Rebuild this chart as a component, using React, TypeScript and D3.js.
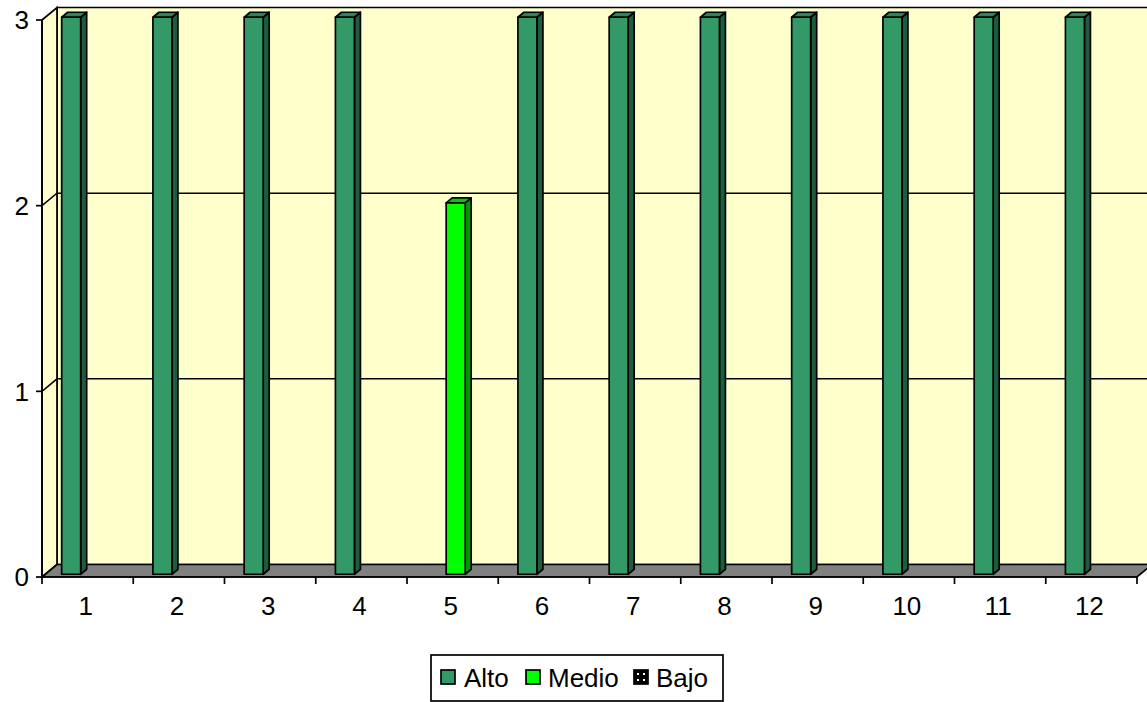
import React from "react";
import * as d3 from "d3";

const categories = ["1", "2", "3", "4", "5", "6", "7", "8", "9", "10", "11", "12"];
const seriesNames = ["Alto", "Medio", "Bajo"];
const alto = [3, 3, 3, 3, 0, 3, 3, 3, 3, 3, 3, 3];
const medio = [0, 0, 0, 0, 2, 0, 0, 0, 0, 0, 0, 0];
const bajo = [0, 0, 0, 0, 0, 0, 0, 0, 0, 0, 0, 0];
const yTicks = [0, 1, 2, 3];

const seriesValues = [alto, medio, bajo];
const faceColors = [
  { front: "#339966", side: "#1f5c3d", top: "#2b8556" },
  { front: "#00ff00", side: "#009900", top: "#00cc00" },
  { front: "#000000", side: "#000000", top: "#000000" },
];

const W = 1147;
const H = 702;
const left = 42;
const right = 1137;
const y0 = 577;
const y3 = 20;
const DX = 15;
const DY = -12.5;
const font = "'Liberation Sans', Arial, sans-serif";
const SW = 1.7;

export default function App() {
  const x = d3.scaleBand<string>().domain(categories).range([left, right]);
  const y = d3.scaleLinear().domain([0, 3]).range([y0, y3]);
  const groupW = 58.5;
  const inner = d3.scaleBand<string>().domain(seriesNames).range([-groupW / 2, groupW / 2]);
  const bw = inner.bandwidth() - 0.5;
  const d0 = 0.22;
  const d1 = 0.62;

  const P = (px: number, py: number, d: number) => [px + d * DX, py + d * DY];
  const poly = (pts: number[][]) => pts.map((p) => p.join(",")).join(" ");

  const bars: React.ReactNode[] = [];
  categories.forEach((c, ci) => {
    seriesNames.forEach((s, si) => {
      const v = seriesValues[si][ci];
      if (!v) return;
      const cx = (x(c) as number) + x.bandwidth() / 2 + (inner(s) as number);
      const xa = cx;
      const xb = cx + bw;
      const yt = y(v);
      const yb = y(0);
      const col = faceColors[si];
      const front = [P(xa, yt, d0), P(xb, yt, d0), P(xb, yb, d0), P(xa, yb, d0)];
      const side = [P(xb, yt, d0), P(xb, yt, d1), P(xb, yb, d1), P(xb, yb, d0)];
      const top = [P(xa, yt, d0), P(xa, yt, d1), P(xb, yt, d1), P(xb, yt, d0)];
      bars.push(
        <g key={c + s} stroke="#000" strokeWidth={SW} strokeLinejoin="round">
          <polygon points={poly(side)} fill={col.side} />
          <polygon points={poly(top)} fill={col.top} />
          <polygon points={poly(front)} fill={col.front} />
        </g>
      );
    });
  });

  const xTickPos = categories.map((c) => x(c) as number).concat([right]);

  return (
    <svg width={W} height={H} style={{ position: "absolute", left: 0, top: 0 }} fontFamily={font}>
      <defs>
        <pattern id="bajoPat" width="6" height="6" patternUnits="userSpaceOnUse">
          <rect width="6" height="6" fill="#000" />
          <rect x="1" y="1" width="2" height="2" fill="#fff" />
        </pattern>
      </defs>
      <rect width={W} height={H} fill="#fff" />
      {/* back wall */}
      <polygon
        points={poly([P(left, y3, 1), P(right, y3, 1), P(right, y0, 1), P(left, y0, 1)])}
        fill="#ffffcc"
        stroke="#000"
        strokeWidth={SW}
      />
      {/* left wall */}
      <polygon
        points={poly([P(left, y3, 0), P(left, y3, 1), P(left, y0, 1), P(left, y0, 0)])}
        fill="#ffffcc"
        stroke="#000"
        strokeWidth={SW}
      />
      {/* gridlines */}
      {yTicks
        .filter((t) => t > 0 && t < 3)
        .map((t) => (
          <polyline
            key={t}
            points={poly([P(left, y(t), 0), P(left, y(t), 1), P(right, y(t), 1)])}
            fill="none"
            stroke="#000"
            strokeWidth={1.5}
          />
        ))}
      {/* floor */}
      <polygon
        points={poly([P(left, y0, 0), P(right, y0, 0), P(right, y0, 1), P(left, y0, 1)])}
        fill="#808080"
        stroke="#000"
        strokeWidth={SW}
      />
      {bars}
      {/* axes */}
      <line x1={left} x2={left} y1={y3} y2={y0} stroke="#000" strokeWidth={SW} />
      <line x1={left} x2={right} y1={y0} y2={y0} stroke="#000" strokeWidth={SW} />
      {yTicks.map((t) => (
        <g key={t}>
          <line x1={left - 6} x2={left} y1={y(t)} y2={y(t)} stroke="#000" strokeWidth={SW} />
          <text x={left - 13} y={y(t)} dy="0.36em" textAnchor="end" fontSize={26}>
            {t}
          </text>
        </g>
      ))}
      {xTickPos.map((px, i) => (
        <line key={i} x1={px} x2={px} y1={y0} y2={y0 + 7} stroke="#000" strokeWidth={SW} />
      ))}
      {categories.map((c) => (
        <text
          key={c}
          x={(x(c) as number) + x.bandwidth() / 2 - 2}
          y={615}
          textAnchor="middle"
          fontSize={26}
        >
          {c}
        </text>
      ))}
      {/* legend */}
      <rect x={431} y={655} width={292} height={46} fill="#fff" stroke="#000" strokeWidth={SW} />
      {[
        { name: "Alto", sx: 441, tx: 464, fill: faceColors[0].front },
        { name: "Medio", sx: 526, tx: 548, fill: faceColors[1].front },
        { name: "Bajo", sx: 634, tx: 656, fill: "url(#bajoPat)" },
      ].map((l) => (
        <g key={l.name}>
          <rect x={l.sx} y={670} width={14} height={14} fill={l.fill} stroke="#000" strokeWidth={SW} />
          <text x={l.tx} y={687} fontSize={26}>
            {l.name}
          </text>
        </g>
      ))}
    </svg>
  );
}
